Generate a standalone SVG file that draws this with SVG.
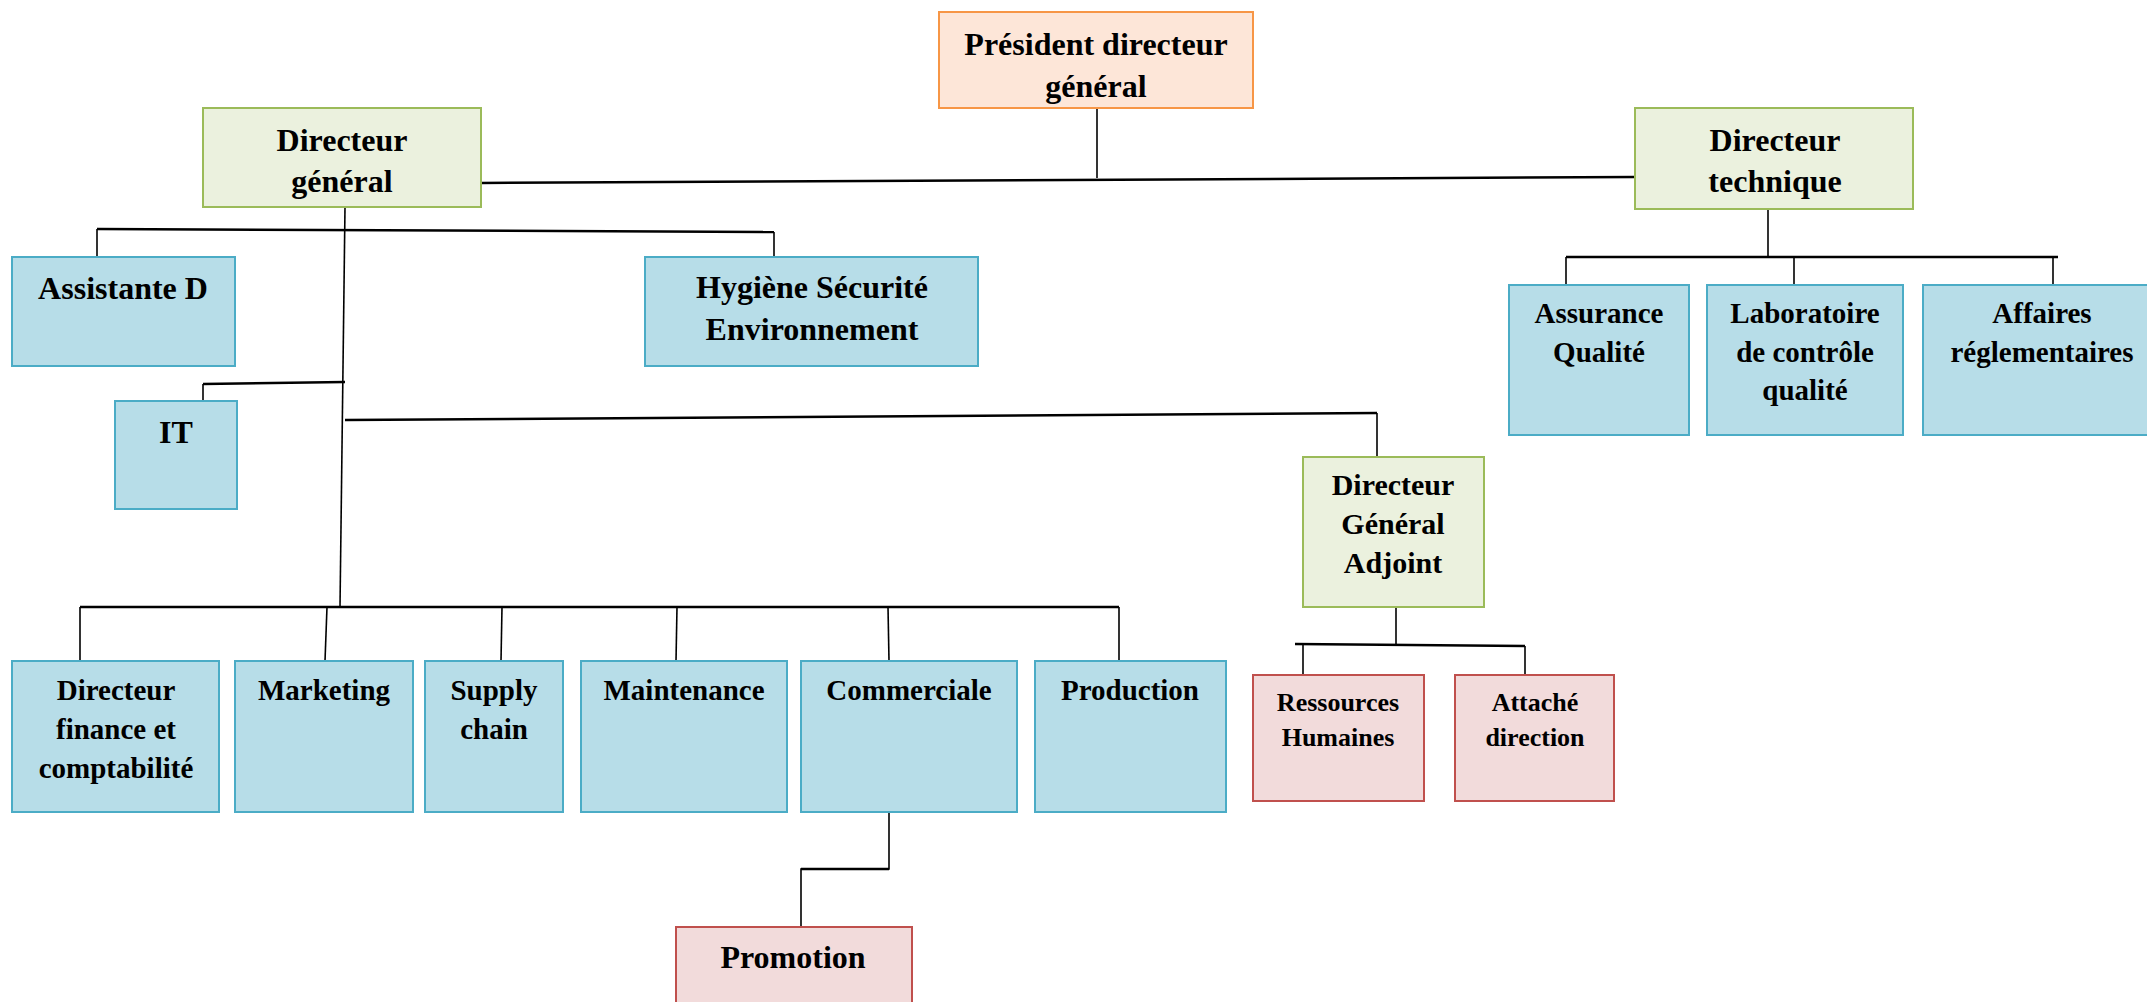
<svg xmlns="http://www.w3.org/2000/svg" width="2147" height="1002" viewBox="0 0 2147 1002">
<style>
  text { font-family: "Liberation Serif", "Times New Roman", serif; font-weight: bold; fill: #000; text-anchor: middle; }
  .t32 { font-size: 32px; }
  .t30 { font-size: 30px; }
  .t29 { font-size: 29px; }
  .t26 { font-size: 26px; }
  .orange { fill: #fde6d8; stroke: #f79646; stroke-width: 2; }
  .green { fill: #ebf1de; stroke: #9bbb59; stroke-width: 2; }
  .blue { fill: #b7dde8; stroke: #4bacc6; stroke-width: 2; }
  .pink { fill: #f2dbdb; stroke: #c0504d; stroke-width: 2; }
  .bar { stroke: #000; stroke-width: 2.5; fill: none; }
  .ln { stroke: #000; stroke-width: 1.6; fill: none; }
</style>
<rect width="2147" height="1002" fill="#fff"/>

<g id="connectors">
  <line class="ln" x1="1097" y1="109" x2="1097" y2="178"/>
  <line class="bar" x1="481" y1="183" x2="1635" y2="177"/>
  <line class="ln" x1="345" y1="207" x2="340" y2="607"/>
  <line class="bar" x1="97" y1="229" x2="774" y2="232"/>
  <line class="ln" x1="97" y1="229" x2="97" y2="257"/>
  <line class="ln" x1="774" y1="232" x2="774" y2="257"/>
  <line class="bar" x1="203" y1="384" x2="345" y2="382"/>
  <line class="ln" x1="203" y1="384" x2="203" y2="401"/>
  <line class="bar" x1="345" y1="420" x2="1377" y2="413"/>
  <line class="ln" x1="1377" y1="413" x2="1377" y2="457"/>
  <line class="ln" x1="1768" y1="209" x2="1768" y2="257"/>
  <line class="bar" x1="1566" y1="257" x2="2058" y2="257"/>
  <line class="ln" x1="1566" y1="257" x2="1566" y2="285"/>
  <line class="ln" x1="1794" y1="257" x2="1794" y2="285"/>
  <line class="ln" x1="2053" y1="257" x2="2053" y2="285"/>
  <line class="bar" x1="80" y1="607" x2="1119" y2="607"/>
  <line class="ln" x1="80" y1="607" x2="80" y2="661"/>
  <line class="ln" x1="327" y1="607" x2="325" y2="661"/>
  <line class="ln" x1="502" y1="607" x2="501" y2="661"/>
  <line class="ln" x1="677" y1="607" x2="676" y2="661"/>
  <line class="ln" x1="888" y1="607" x2="889" y2="661"/>
  <line class="ln" x1="1119" y1="607" x2="1119" y2="661"/>
  <line class="ln" x1="1396" y1="607" x2="1396" y2="645"/>
  <line class="bar" x1="1295" y1="644" x2="1525" y2="646"/>
  <line class="ln" x1="1303" y1="644" x2="1303" y2="675"/>
  <line class="ln" x1="1525" y1="646" x2="1525" y2="675"/>
  <polyline class="ln" points="889,812 889,869 801,869 801,927"/>
  <line class="bar" x1="801" y1="869" x2="889" y2="869"/>
</g>

<g id="pdg"><rect class="orange" x="939" y="12" width="314" height="96"/>
  <text class="t32" x="1096" y="55">Président directeur</text>
  <text class="t32" x="1096" y="97">général</text></g>

<g id="dg"><rect class="green" x="203" y="108" width="278" height="99"/>
  <text class="t32" x="342" y="151">Directeur</text>
  <text class="t32" x="342" y="192">général</text></g>

<g id="dt"><rect class="green" x="1635" y="108" width="278" height="101"/>
  <text class="t32" x="1775" y="151">Directeur</text>
  <text class="t32" x="1775" y="192">technique</text></g>

<g id="assistante"><rect class="blue" x="12" y="257" width="223" height="109"/>
  <text class="t32" x="123" y="299">Assistante D</text></g>

<g id="hse"><rect class="blue" x="645" y="257" width="333" height="109"/>
  <text class="t32" x="812" y="298">Hygiène Sécurité</text>
  <text class="t32" x="812" y="340">Environnement</text></g>

<g id="it"><rect class="blue" x="115" y="401" width="122" height="108"/>
  <text class="t32" x="176" y="443">IT</text></g>

<g id="assurance"><rect class="blue" x="1509" y="285" width="180" height="150"/>
  <text class="t29" x="1599" y="323">Assurance</text>
  <text class="t29" x="1599" y="362">Qualité</text></g>

<g id="labo"><rect class="blue" x="1707" y="285" width="196" height="150"/>
  <text class="t29" x="1805" y="323">Laboratoire</text>
  <text class="t29" x="1805" y="362">de contrôle</text>
  <text class="t29" x="1805" y="400">qualité</text></g>

<g id="affaires"><rect class="blue" x="1923" y="285" width="240" height="150"/>
  <text class="t29" x="2042" y="323">Affaires</text>
  <text class="t29" x="2042" y="362">réglementaires</text></g>

<g id="dga"><rect class="green" x="1303" y="457" width="181" height="150"/>
  <text class="t30" x="1393" y="495">Directeur</text>
  <text class="t30" x="1393" y="534">Général</text>
  <text class="t30" x="1393" y="573">Adjoint</text></g>

<g id="finance"><rect class="blue" x="12" y="661" width="207" height="151"/>
  <text class="t29" x="116" y="700">Directeur</text>
  <text class="t29" x="116" y="739">finance et</text>
  <text class="t29" x="116" y="778">comptabilité</text></g>

<g id="marketing"><rect class="blue" x="235" y="661" width="178" height="151"/>
  <text class="t29" x="324" y="700">Marketing</text></g>

<g id="supply"><rect class="blue" x="425" y="661" width="138" height="151"/>
  <text class="t29" x="494" y="700">Supply</text>
  <text class="t29" x="494" y="739">chain</text></g>

<g id="maintenance"><rect class="blue" x="581" y="661" width="206" height="151"/>
  <text class="t29" x="684" y="700">Maintenance</text></g>

<g id="commerciale"><rect class="blue" x="801" y="661" width="216" height="151"/>
  <text class="t29" x="909" y="700">Commerciale</text></g>

<g id="production"><rect class="blue" x="1035" y="661" width="191" height="151"/>
  <text class="t29" x="1130" y="700">Production</text></g>

<g id="rh"><rect class="pink" x="1253" y="675" width="171" height="126"/>
  <text class="t26" x="1338" y="711">Ressources</text>
  <text class="t26" x="1338" y="746">Humaines</text></g>

<g id="attache"><rect class="pink" x="1455" y="675" width="159" height="126"/>
  <text class="t26" x="1535" y="711">Attaché</text>
  <text class="t26" x="1535" y="746">direction</text></g>

<g id="promotion"><rect class="pink" x="676" y="927" width="236" height="90"/>
  <text class="t32" x="793" y="968">Promotion</text></g>
</svg>
